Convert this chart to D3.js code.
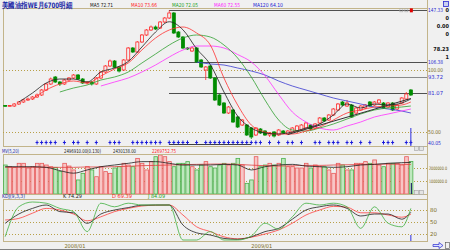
<!DOCTYPE html>
<html><head><meta charset="utf-8">
<script src="https://cdn.jsdelivr.net/npm/d3@7"></script>
<style>
body{margin:0;background:#f0f0f0;overflow:hidden}
svg{display:block}
text{font-family:"DejaVu Sans Condensed","DejaVu Sans",sans-serif}
</style>
</head><body>
<svg id="c" width="450" height="250"></svg>
<script>
// ---------- DATA ----------
const title = "美國油指WE月6700明細";
const maLegend = ["MA5 72.71","MA10 73.66","MA20 72.05","MA60 72.55","MA120 64.10"];
const opens  = [71.2,70.8,70.8,72.4,74.0,75.6,76.4,78.0,79.6,83.6,88.4,94.0,90.0,88.4,91.6,93.2,95.6,92.4,89.2,90.0,88.4,93.2,98.0,102.8,106.8,101.8,99.6,107.6,117.2,114.0,122.0,127.6,131.6,134.0,133.2,138.0,141.2,145.2,130.0,126.0,117.2,114.8,117.2,107.6,99.6,102.8,93.2,79.6,73.2,65.2,67.6,62.0,55.6,55.6,53.2,47.6,52.4,50.8,47.6,50.0,47.6,50.8,48.4,50.0,50.8,51.6,53.2,55.6,53.2,57.2,61.2,59.6,63.6,67.6,74.0,70.8,71.6,65.2,67.6,69.2,74.0,71.6,73.2,73.2,70.0,73.2,68.4,73.2,76.4,83.6];
const closes = [70.8,71.2,72.4,74.0,75.6,76.4,78.0,79.6,83.6,88.4,92.4,90.0,88.4,91.6,93.2,95.6,92.4,89.2,90.0,88.4,93.2,98.0,102.8,106.8,101.8,98.8,107.6,117.2,114.0,122.0,127.6,131.6,134.0,132.4,138.0,141.2,145.2,129.2,126.0,117.2,116.4,117.2,106.0,102.0,102.0,93.2,75.6,71.6,65.2,70.0,58.0,54.0,59.6,47.6,46.0,53.2,49.2,47.6,49.2,46.8,51.6,49.2,50.8,53.2,54.8,55.6,57.2,52.4,56.4,61.2,58.8,63.6,68.4,72.4,71.6,73.2,62.0,69.2,70.8,71.6,70.8,74.0,75.6,69.2,73.2,67.6,71.6,77.2,80.4,79.6];
const highs  = [71.6,71.6,73.2,74.8,76.4,77.6,78.8,80.8,84.4,89.2,93.6,94.8,90.8,92.4,94.0,96.4,96.4,93.2,90.8,90.8,94.0,98.8,103.6,108.0,107.6,102.8,108.4,118.0,118.0,122.8,128.4,132.4,135.2,135.2,138.8,142.0,147.33,146.0,130.8,126.8,118.0,118.4,118.0,108.4,102.8,103.6,94.0,80.4,74.0,70.8,68.4,62.8,60.4,56.4,54.0,54.0,53.2,51.6,50.0,50.8,52.4,51.6,51.6,54.0,55.6,56.4,58.0,56.4,57.2,62.0,62.0,64.4,69.2,73.2,74.8,75.6,72.4,70.0,71.6,72.4,74.8,74.8,76.4,74.0,74.0,74.0,72.4,78.0,82.0,84.4];
const lows   = [70.4,70.4,70.0,71.6,73.2,74.8,75.6,77.2,78.8,82.8,87.6,89.2,86.8,87.6,90.8,92.4,91.6,88.4,88.0,87.2,87.6,92.4,97.2,102.0,101.0,97.6,98.8,106.8,113.2,113.2,121.2,126.8,130.8,131.6,132.4,137.2,140.4,128.4,125.2,116.4,115.6,114.0,105.2,101.2,91.6,92.4,74.8,70.8,64.4,64.4,57.2,53.2,54.8,46.8,44.4,46.8,48.4,46.8,46.0,45.6,46.8,48.4,47.6,49.2,50.0,50.8,52.4,51.6,52.4,56.4,58.0,58.8,62.8,66.8,70.8,70.0,61.2,64.4,66.8,68.4,70.0,70.8,72.4,68.4,69.2,66.8,67.6,72.4,75.6,78.8];
const volumes = [2.23,2.1,2.05,2.36,2.36,2.0,2.1,2.36,2.36,2.23,2.1,2.05,1.72,2.36,2.15,1.85,1.08,1.59,2.1,1.85,1.33,2.1,1.72,1.59,2.0,2.1,2.36,2.23,2.1,2.74,2.36,1.85,2.49,2.87,3.0,2.87,2.49,2.1,2.36,2.36,2.49,2.1,1.85,2.23,2.49,2.1,2.0,2.23,2.36,2.23,2.36,2.74,2.23,0.82,1.08,2.87,2.1,2.23,2.36,2.23,2.36,2.74,2.1,2.1,2.0,2.0,2.36,2.0,2.23,2.1,2.1,1.85,1.59,2.36,2.23,1.85,1.85,2.36,2.36,2.49,2.36,2.62,2.23,2.1,2.36,2.36,2.36,2.23,2.87,2.50];
// indicator samples, taken at these candle indices
const sampleIdx = [0,3,6,9,12,15,18,21,24,27,30,33,36,39,42,45,48,51,54,57,60,63,66,69,72,75,78,81,84,87,89];
const ma5   = [null,74.0,81.2,89.2,92.4,92.4,90.0,98.0,101.2,106.4,118.0,130.0,138.2,131.8,116.6,104.0,82.0,62.8,53.2,49.2,48.4,50.0,53.2,56.4,63.6,72.4,69.2,72.4,71.6,73.2,76.4];
const ma10  = [null,null,76.4,83.6,88.4,90.8,89.2,94.8,100.4,105.2,115.6,125.2,131.6,134.0,129.2,119.6,93.2,71.6,55.6,50.0,48.4,48.4,50.8,54.0,59.6,65.2,67.6,70.0,70.8,71.6,74.0];
const ma20  = [null,null,null,null,82.0,85.2,87.6,91.6,94.0,98.0,105.2,112.4,119.6,125.2,127.6,126.0,119.6,109.2,94.0,75.6,59.6,51.6,50.8,53.2,56.4,60.4,64.4,67.6,69.2,70.0,70.8];
const ma60  = [null,null,null,null,null,null,null,86.8,90.0,93.2,98.0,103.6,110.0,115.6,118.8,118.8,117.2,112.0,106.0,95.0,80.0,66.0,58.0,53.2,51.6,54.8,58.0,62.0,64.4,66.8,68.4];
const ma120 = [null,null,null,null,null,null,null,null,null,null,null,null,null,null,106.0,104.4,103.6,101.2,98.8,95.6,90.8,86.8,83.6,80.4,77.2,74.8,72.4,70.0,68.4,66.8,65.2];
const mv5   = [2.1,2.1,2.1,2.05,1.8,1.6,1.85,2.1,2.23,2.36,2.49,2.49,2.36,2.23,2.23,2.23,2.28,2.23,1.85,2.1,2.23,2.28,2.15,2.1,2.05,2.1,2.23,2.28,2.36,2.41,2.43];
const mv20  = [2.05,2.05,2.05,2.05,2.05,2.05,2.08,2.08,2.1,2.13,2.18,2.2,2.23,2.26,2.28,2.3,2.31,2.28,2.22,2.18,2.15,2.17,2.2,2.2,2.23,2.25,2.27,2.28,2.3,2.28,2.27];
const kVals = [46.7,70,84,92.5,76,73,46.7,70,80,86,92,92.5,92.5,42.5,23,17.5,9,6.7,13,26,34,57,80,88,92.5,84,65,70,70,57,74.29];
const dVals = [55,59,72,84,80,70,53,63,76,84,90,92,92.5,67.5,38,26,13,8,12,20,30,47,67.5,80,89,87,73,73,67.5,62,69.39];
const jVals = [13.3,88,100,97,84,76,26,97,88,97,92.5,92.5,92.5,5,5,26,5,5,15,47,32,63,97,92.5,97,88,34,88,47,38,84.09];
const signalIdx = [7,8,9,10,11,13,15,16,18,20,23,24,25,28,29,30,31,32,33,34,36,37,38,39,40,42,44,45,46,47,48,49,50,51,52,53,54,55,56,58,60,62,63,65,68,69,71,72,73,75,76,78,80,83,84,85,88,89];
const fibLevels = [147.33,106.38,93.72,81.07];
const fibLow = 40.05, fibHighIdx = 36, fibLowIdx = 54;
const priceGrid = [100,50];
const volGrid = [2,1];            // millions
const volGridLabels = ["2000000.0","1000000.0"];
const kdjGrid = [80,50,20];
const trendLine = [[62,48.0],[89,76.8]];
const volHeader = ["MV(5,20)","2496910.00(0.130)","2430138.00","2269752.75"];
const kdjHeader = ["KDJ(9,3,3)","K  74.29","D  69.39","J  84.09"];
const infoBox = ["0","0","0.00","0","78.23","1"];
const dateLabels = [{idx:13,text:"2008/01"},{idx:54,text:"2009/01"}];

// ---------- DRAW ----------
const svg = d3.select("#c");
const N = opens.length;
const L = 3, R = 427, candleR = 413;
const FRAME = "#c2b48a", GRID = "#b8a048", AXT = "#7a6a20";
const x = d3.scaleBand().domain(d3.range(N)).range([L, candleR]).paddingInner(0.16).paddingOuter(0.05);
const bw = x.bandwidth();
const cx = i => x(i) + bw/2;
const yP = d3.scaleLinear().domain([38.8,149.2]).range([146,8]);
const yV = d3.scaleLinear().domain([0,3.2]).range([194,152.4]);
const yK = d3.scaleLinear().domain([0,100]).range([242,202]);

svg.append("rect").attr("width",450).attr("height",250).attr("fill","#f0f0f0");

const defs = svg.append("defs");
function clip(id,y0,y1){defs.append("clipPath").attr("id",id).append("rect").attr("x",L).attr("y",y0).attr("width",R-L).attr("height",y1-y0);}
clip("cm",9,146); clip("cv",155,194); clip("ck",200,241);

// frames
const fr = svg.append("g").attr("fill","none").attr("stroke",FRAME).attr("shape-rendering","crispEdges");
fr.append("rect").attr("x",L+0.5).attr("y",8.5).attr("width",R-L).attr("height",137.5);
fr.append("rect").attr("x",L+0.5).attr("y",154.5).attr("width",R-L).attr("height",40);
fr.append("rect").attr("x",L+0.5).attr("y",199.5).attr("width",R-L).attr("height",41.5);
fr.append("line").attr("x1",R+0.5).attr("x2",R+0.5).attr("y1",0).attr("y2",241);
svg.append("line").attr("x1",0).attr("x2",450).attr("y1",249.5).attr("y2",249.5).attr("stroke","#808080");

// dotted grids
function dotted(g,y,x1){g.append("line").attr("x1",L).attr("x2",x1).attr("y1",Math.round(y)+0.5).attr("y2",Math.round(y)+0.5)
  .attr("stroke",GRID).attr("stroke-dasharray","1,2").attr("shape-rendering","crispEdges");}
const gGrid = svg.append("g");
priceGrid.forEach(v=>dotted(gGrid,yP(v),R));
volGrid.forEach(v=>dotted(gGrid,yV(v),R));
kdjGrid.forEach(v=>dotted(gGrid,yK(v),R));

// ---------- MAIN PANEL ----------
const gm = svg.append("g").attr("clip-path","url(#cm)");
fibLevels.forEach((v,k)=>{
  gm.append("line").attr("x1",cx(fibHighIdx)).attr("x2",R).attr("y1",Math.round(yP(v))+0.5).attr("y2",Math.round(yP(v))+0.5)
    .attr("stroke",k==2?"#8a8a8a":"#505050").attr("shape-rendering","crispEdges");
});
gm.append("line").attr("x1",cx(fibHighIdx)).attr("x2",cx(fibLowIdx)).attr("y1",Math.round(yP(fibLow))+0.5).attr("y2",Math.round(yP(fibLow))+0.5)
  .attr("stroke","#404040").attr("shape-rendering","crispEdges");

// candles
const cg = gm.append("g");
d3.range(N).forEach(i=>{
  const up = closes[i] >= opens[i];
  const col = up ? "#ff2a2a" : "#008c00";
  cg.append("line").attr("x1",cx(i)).attr("x2",cx(i)).attr("y1",yP(highs[i])).attr("y2",yP(lows[i])).attr("stroke",col).attr("stroke-width",0.8);
  const top = yP(Math.max(opens[i],closes[i])), bot = yP(Math.min(opens[i],closes[i]));
  cg.append("rect").attr("x",x(i)+0.4).attr("y",top).attr("width",bw-0.8).attr("height",Math.max(0.8,bot-top))
    .attr("fill", up ? "#f0f0f0" : "#008c00").attr("stroke",col).attr("stroke-width",0.8);
});

// moving averages
function series(vals){return sampleIdx.map((idx,k)=>({i:idx,v:vals[k]}));}
function drawLine(g,vals,ys,col,w){
  g.append("path").datum(series(vals)).attr("fill","none").attr("stroke",col).attr("stroke-width",w||0.8)
   .attr("d",d3.line().defined(d=>d.v!=null).x(d=>cx(d.i)).y(d=>ys(d.v)).curve(d3.curveMonotoneX));
}
drawLine(gm,ma120,yP,"#3a3ad0");
drawLine(gm,ma60,yP,"#ff30ff");
drawLine(gm,ma20,yP,"#30a030");
drawLine(gm,ma10,yP,"#ff3030");
drawLine(gm,ma5,yP,"#202020");
gm.append("line").attr("x1",cx(trendLine[0][0])).attr("y1",yP(trendLine[0][1])).attr("x2",cx(trendLine[1][0])).attr("y2",yP(trendLine[1][1]))
  .attr("stroke","#303030").attr("stroke-width",1);

// signal markers
const sg = gm.append("g").attr("stroke","#1a1adc").attr("stroke-width",1);
signalIdx.forEach(i=>{
  sg.append("line").attr("x1",cx(i)).attr("x2",cx(i)).attr("y1",140.5).attr("y2",144.5);
  sg.append("line").attr("x1",cx(i)-1.5).attr("x2",cx(i)+1.5).attr("y1",142.5).attr("y2",142.5);
});
// cursor
svg.append("line").attr("x1",cx(N-1)).attr("x2",cx(N-1)).attr("y1",128).attr("y2",146).attr("stroke","#3030e0");
// top marker
svg.append("rect").attr("x",cx(N-1)-1).attr("y",yP(fibLevels[0])-2).attr("width",3).attr("height",4).attr("fill","#e00000");
svg.append("rect").attr("x",cx(N-1)-11).attr("y",yP(fibLevels[0])-1.5).attr("width",3).attr("height",3).attr("fill","none").attr("stroke","#aaa").attr("stroke-width",0.6);
svg.append("rect").attr("x",cx(N-1)-6).attr("y",yP(fibLevels[0])-1.5).attr("width",3).attr("height",3).attr("fill","none").attr("stroke","#aaa").attr("stroke-width",0.6);

// ---------- VOLUME ----------
const gv = svg.append("g").attr("clip-path","url(#cv)");
d3.range(N).forEach(i=>{
  const up = closes[i] >= opens[i];
  gv.append("rect").attr("x",x(i)+0.3).attr("y",yV(volumes[i])).attr("width",bw-0.2).attr("height",yV(0)-yV(volumes[i]))
    .attr("fill", up ? "#f8c6c6" : "#bfe8bf").attr("stroke", up ? "#e85a5a" : "#4cb04c").attr("stroke-width",0.8);
});
drawLine(gv,mv20,yV,"#e04040");
drawLine(gv,mv5,yV,"#202020");
svg.append("line").attr("x1",cx(N-1)+0.5).attr("x2",cx(N-1)+0.5).attr("y1",183).attr("y2",194).attr("stroke","#101060");

// ---------- KDJ ----------
const gk = svg.append("g").attr("clip-path","url(#ck)");
drawLine(gk,dVals,yK,"#ff4040");
drawLine(gk,kVals,yK,"#202020");
drawLine(gk,jVals,yK,"#40b040");
svg.append("line").attr("x1",cx(N-1)).attr("x2",cx(N-1)).attr("y1",235).attr("y2",241).attr("stroke","#3030e0");

// ---------- TEXT ----------
function txt(s,xx,yy,col,fs,w,anchor){
  const t = svg.append("text").attr("x",xx).attr("y",yy).attr("fill",col).attr("font-size",fs).text(s);
  if(w){t.attr("textLength",w).attr("lengthAdjust","spacingAndGlyphs");}
  if(anchor) t.attr("text-anchor",anchor);
  return t;
}
txt(title,2,7.5,"#1a2aa8",7.5,70).attr("font-family","Noto Sans CJK TC").attr("font-weight","bold");
const maCols = ["#101010","#ff2020","#20a020","#ff20ff","#2020d0"];
const maX = [90,131,172,214,253], maW=[23,26,26,26,30];
maLegend.forEach((s,k)=>txt(s,maX[k],7,maCols[k],5.5,maW[k]));

const hCols = ["#1a2aa8","#202020","#202020","#ff2020"], hX=[2,64,113,152], hW=[17,37,23,24];
volHeader.forEach((s,k)=>txt(s,hX[k],152.5,hCols[k],5.5,hW[k]));
const kCols = ["#1a2aa8","#202020","#ff2020","#20a020"], kX=[2,63,112,148], kW=[23,19,20,17];
kdjHeader.forEach((s,k)=>txt(s,kX[k],197.5,kCols[k],5.5,kW[k]));

// right axis labels
txt(fibLevels[0].toFixed(2),428,12,"#2a2ad0",5.5,15);
fibLevels.slice(1).forEach(v=>txt(v.toFixed(2),428,yP(v)+2,"#2a2ad0",5.5,15));
txt(fibLow.toFixed(2),428,yP(fibLow)+1,"#2a2ad0",5.5,13);
priceGrid.forEach(v=>txt(v.toFixed(2),428,yP(v)+2,AXT,5.5,v>=100?15:13));
const infoY=[12,20,28,36,51,59];
infoBox.forEach((s,k)=>txt(s,449,infoY[k],"#101010",5.5,null,"end").attr("font-weight","bold"));
volGrid.forEach((v,k)=>txt(volGridLabels[k],429,yV(v)+2,AXT,4.6,18));
kdjGrid.forEach(v=>txt(String(v),430,yK(v)+2,AXT,5.5,7));
dateLabels.forEach(d=>txt(d.text,cx(d.idx),247.5,AXT,5.5,21,null).attr("text-anchor","start"));

// small buttons
[146,190].forEach(yy=>{
  [414,419].forEach(xx=>svg.append("rect").attr("x",xx+0.5).attr("y",yy+0.5).attr("width",4).attr("height",4).attr("fill","#e4e4e4").attr("stroke","#a0a0a0").attr("stroke-width",0.6));
});
// corner icons
svg.append("rect").attr("x",443.5).attr("y",1.5).attr("width",5).attr("height",5).attr("fill","#c8d0f0").attr("stroke","#2a2ad0").attr("stroke-width",0.8);
svg.append("path").attr("d","M433,244.5 h6 v-2 l4,3 l-4,3 v-2 h-6 z").attr("fill","#d8e0ff").attr("stroke","#2a2ad0").attr("stroke-width",0.7);
svg.append("rect").attr("x",445.5).attr("y",242.5).attr("width",4).attr("height",6).attr("fill","none").attr("stroke","#505050").attr("stroke-width",0.6);
</script>
</body></html>
